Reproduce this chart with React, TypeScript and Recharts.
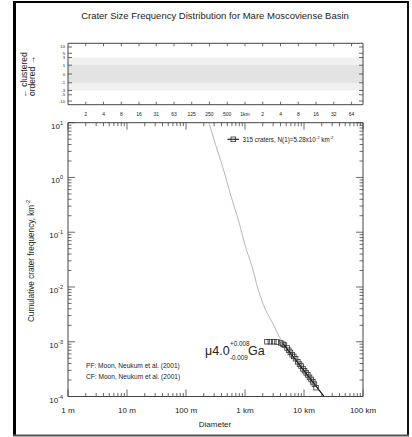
import React from 'react';
import { ComposedChart, Line, Scatter, XAxis, YAxis, ReferenceArea } from 'recharts';

const FONT = '"Liberation Sans", Arial, Helvetica, sans-serif';
const TXT = '#222';
const AX = '#444';

// ---------- data (diameter in km, cumulative frequency in km^-2) ----------
const isochronD = [0.245, 0.32, 0.418, 0.58, 0.8, 1.0, 1.3, 1.66, 2.2, 2.95, 4.09, 6.0, 9.29, 14.0, 21.9, 26];
const isochronN = [10, 3.87, 1.57, 0.453, 0.146, 0.058, 0.0247, 0.0092, 0.00396, 0.00217, 0.00108, 0.000607, 0.000331, 0.00019, 0.0001, 0.000081];

const fitD = [4.37, 21.9];
const fitN = [0.000935, 0.0001];

const craterD = [2.36, 2.69, 3.07, 3.49, 4.04, 4.4, 4.65, 5.16, 5.5, 5.88, 6.3, 6.71, 7.2, 7.85, 8.4, 8.93, 9.6, 10.2, 10.9, 11.6, 12.4, 13.2, 14.1, 15.0, 16.0];
const craterN = [0.001, 0.001, 0.001, 0.00099, 0.00095, 0.0009, 0.00087, 0.00077, 0.0007, 0.00064, 0.00058, 0.00054, 0.00049, 0.00043, 0.00039, 0.00036, 0.00032, 0.000295, 0.00027, 0.000248, 0.000224, 0.000205, 0.000185, 0.000168, 0.000145];

// ---------- ticks ----------
const xDecades = [0.001, 0.01, 0.1, 1, 10, 100];
const xDecadeLabels = ['1 m', '10 m', '100 m', '1 km', '10 km', '100 km'];
const yDecades = [0.0001, 0.001, 0.01, 0.1, 1, 10];
const yExponents = ['-4', '-3', '-2', '-1', '0', '1'];
const minorMult = [2, 3, 4, 5, 6, 7, 8, 9];

const panelXTicks = [0.002, 0.004, 0.008, 0.016, 0.03125, 0.0625, 0.125, 0.25, 0.5, 1, 2, 4, 8, 16, 32, 64];
const panelXLabels = ['2', '4', '8', '16', '31', '63', '125', '250', '500', '1km', '2', '4', '8', '16', '32', '64'];
const panelYValues = [-10, -5, -3, -1, 0, 1, 3, 5, 10];
const panelYLabels = ['-10', '-5', '-3', '-1', '0', '1', '3', '5', '10'];
const outerBand = [-3, 3];
const innerBand = [-1, 1];

// symmetric-log position used for the R-plot axis
const panelPos = (v: number) => Math.sign(v) * Math.log1p(Math.abs(v) / 0.7);

const withMinors = (decades: number[]) => {
  const out: number[] = [];
  decades.forEach((d, i) => {
    out.push(d);
    if (i < decades.length - 1) minorMult.forEach((m) => out.push(+(d * m).toPrecision(6)));
  });
  return out;
};
const xTicks = withMinors(xDecades);
const yTicks = withMinors(yDecades);

const isochron = isochronD.map((d, i) => ({ d, n: isochronN[i] }));
const fit = fitD.map((d, i) => ({ d, n: fitN[i] }));
const craters = craterD.map((d, i) => ({ d, n: craterN[i] }));

const majorIndex = (arr: number[], v: number) => arr.findIndex((a) => Math.abs(a - v) / a < 1e-6);

// ---------- custom ticks ----------
const BottomTick = (p: any) => {
  const { x, y, payload } = p;
  const idx = majorIndex(xDecades, payload.value);
  const len = idx >= 0 ? 7 : 3.5;
  return (
    <g>
      <line x1={x} x2={x} y1={y} y2={y - len} stroke={AX} strokeWidth={0.8} />
      {idx >= 0 && (
        <text x={x} y={y + 16.5} textAnchor="middle" fontSize={8} fontFamily={FONT} fill={TXT}>
          {xDecadeLabels[idx]}
        </text>
      )}
    </g>
  );
};
const TopTick = (p: any) => {
  const { x, y, payload } = p;
  const idx = majorIndex(xDecades, payload.value);
  const len = idx >= 0 ? 7 : 3.5;
  return <line x1={x} x2={x} y1={y} y2={y + len} stroke={AX} strokeWidth={0.8} />;
};
const LeftTick = (p: any) => {
  const { x, y, payload } = p;
  const idx = majorIndex(yDecades, payload.value);
  const len = idx >= 0 ? 7 : 3.5;
  return (
    <g>
      <line x1={x} x2={x + len} y1={y} y2={y} stroke={AX} strokeWidth={0.8} />
      {idx >= 0 && (
        <text x={x - 5} y={y + 6} textAnchor="end" fontSize={8} fontFamily={FONT} fill={TXT}>
          10
          <tspan dy={-4} fontSize={5.5}>{yExponents[idx]}</tspan>
        </text>
      )}
    </g>
  );
};
const RightTick = (p: any) => {
  const { x, y, payload } = p;
  const idx = majorIndex(yDecades, payload.value);
  const len = idx >= 0 ? 7 : 3.5;
  return <line x1={x} x2={x - len} y1={y} y2={y} stroke={AX} strokeWidth={0.8} />;
};

const PanelBottomTick = (p: any) => {
  const { x, y, index } = p;
  return (
    <g>
      <line x1={x} x2={x} y1={y} y2={y - 3} stroke={AX} strokeWidth={0.8} />
      <text x={x} y={y + 11} textAnchor="middle" fontSize={5} fontFamily={FONT} fill={TXT}>
        {panelXLabels[index]}
      </text>
    </g>
  );
};
const PanelTopTick = (p: any) => {
  const { x, y } = p;
  return <line x1={x} x2={x} y1={y} y2={y + 3} stroke={AX} strokeWidth={0.8} />;
};
const PanelLeftTick = (p: any) => {
  const { x, y, index } = p;
  return (
    <g>
      <line x1={x} x2={x + 4} y1={y} y2={y} stroke={AX} strokeWidth={0.8} />
      <text x={x - 3} y={y + 1.5} textAnchor="end" fontSize={4.2} fontFamily={FONT} fill={TXT}>
        {panelYLabels[index]}
      </text>
    </g>
  );
};
const PanelRightTick = (p: any) => {
  const { x, y } = p;
  return <line x1={x} x2={x - 4} y1={y} y2={y} stroke={AX} strokeWidth={0.8} />;
};

const Square = (p: any) => {
  const { cx, cy } = p;
  if (cx == null || cy == null) return null;
  return <rect x={cx - 2.3} y={cy - 2.3} width={4.6} height={4.6} fill="none" stroke="#333" strokeWidth={0.8} />;
};

const axisLine = { stroke: AX, strokeWidth: 1 };

export default function App() {
  const panelTicksY = panelYValues.map(panelPos);
  const yMax = 3.1;
  return (
    <div style={{ position: 'absolute', left: 0, top: 0, width: 412, height: 437, background: '#fff', overflow: 'hidden' }}>
      {/* R-plot panel */}
      <div style={{ position: 'absolute', left: 0, top: 0 }}>
        <ComposedChart width={412} height={125} margin={{ top: 42.3, right: 48, bottom: 19.3, left: 67 }}>
          <XAxis xAxisId="b" type="number" dataKey="d" scale="log" domain={[0.001, 100]} allowDataOverflow
            ticks={panelXTicks} interval={0} height={1} tickSize={0} tickMargin={0} tickLine={false}
            axisLine={axisLine} tick={(p: any) => <PanelBottomTick {...p} />} />
          <XAxis xAxisId="t" orientation="top" type="number" dataKey="d" scale="log" domain={[0.001, 100]} allowDataOverflow
            ticks={panelXTicks} interval={0} height={1} tickSize={0} tickMargin={0} tickLine={false}
            axisLine={axisLine} tick={(p: any) => <PanelTopTick {...p} />} />
          <YAxis yAxisId="l" type="number" domain={[-yMax, yMax]} allowDataOverflow ticks={panelTicksY} interval={0}
            width={1} tickSize={0} tickMargin={0} tickLine={false} axisLine={axisLine}
            tick={(p: any) => <PanelLeftTick {...p} />} />
          <YAxis yAxisId="r" orientation="right" type="number" domain={[-yMax, yMax]} allowDataOverflow ticks={panelTicksY} interval={0}
            width={1} tickSize={0} tickMargin={0} tickLine={false} axisLine={axisLine}
            tick={(p: any) => <PanelRightTick {...p} />} />
          <ReferenceArea xAxisId="b" yAxisId="l" x1={0.001} x2={100} y1={panelPos(outerBand[0])} y2={panelPos(outerBand[1])}
            fill="#f0f0f0" fillOpacity={1} stroke="none" />
          <ReferenceArea xAxisId="b" yAxisId="l" x1={0.001} x2={100} y1={panelPos(innerBand[0])} y2={panelPos(innerBand[1])}
            fill="#e3e3e3" fillOpacity={1} stroke="none" />
        </ComposedChart>
      </div>

      {/* main CSFD plot */}
      <div style={{ position: 'absolute', left: 0, top: 0 }}>
        <ComposedChart width={412} height={437} margin={{ top: 121.7, right: 48, bottom: 39.5, left: 67 }}>
          <XAxis xAxisId="b" type="number" dataKey="d" scale="log" domain={[0.001, 100]} allowDataOverflow
            ticks={xTicks} interval={0} height={1} tickSize={0} tickMargin={0} tickLine={false}
            axisLine={axisLine} tick={(p: any) => <BottomTick {...p} />} />
          <XAxis xAxisId="t" orientation="top" type="number" dataKey="d" scale="log" domain={[0.001, 100]} allowDataOverflow
            ticks={xTicks} interval={0} height={1} tickSize={0} tickMargin={0} tickLine={false}
            axisLine={axisLine} tick={(p: any) => <TopTick {...p} />} />
          <YAxis yAxisId="l" type="number" scale="log" domain={[0.0001, 10]} allowDataOverflow ticks={yTicks} interval={0}
            width={1} tickSize={0} tickMargin={0} tickLine={false} axisLine={axisLine}
            tick={(p: any) => <LeftTick {...p} />} />
          <YAxis yAxisId="r" orientation="right" type="number" scale="log" domain={[0.0001, 10]} allowDataOverflow ticks={yTicks} interval={0}
            width={1} tickSize={0} tickMargin={0} tickLine={false} axisLine={axisLine}
            tick={(p: any) => <RightTick {...p} />} />
          <Line xAxisId="b" yAxisId="l" data={isochron} dataKey="n" type="monotone" stroke="#b5b5b5" strokeWidth={1}
            dot={false} isAnimationActive={false} />
          <Scatter xAxisId="b" yAxisId="l" data={craters} dataKey="n" shape={(p: any) => <Square {...p} />} isAnimationActive={false} />
          <Line xAxisId="b" yAxisId="l" data={fit} dataKey="n" type="linear" stroke="#000" strokeWidth={1.2}
            dot={false} isAnimationActive={false} />
        </ComposedChart>
      </div>

      {/* texts and frame */}
      <svg width={412} height={437} style={{ position: 'absolute', left: 0, top: 0, pointerEvents: 'none' }}>
        <line x1={14.5} y1={1} x2={14.5} y2={436} stroke="#000" strokeWidth={3} />
        <line x1={13} y1={2} x2={409} y2={2} stroke="#000" strokeWidth={2} />
        <line x1={408} y1={1} x2={408} y2={436} stroke="#111" strokeWidth={2} />
        <line x1={13} y1={435.5} x2={409} y2={435.5} stroke="#555" strokeWidth={2} />

        <text x={215} y={18.5} textAnchor="middle" fontSize={9.5} fontFamily={FONT} fill={TXT}>
          Crater Size Frequency Distribution for Mare Moscoviense Basin
        </text>

        <text transform="translate(27,75) rotate(-90)" textAnchor="middle" fontSize={8.5} fontFamily={FONT} fill={TXT}>
          ← clustered
        </text>
        <text transform="translate(35,76) rotate(-90)" textAnchor="middle" fontSize={8.5} fontFamily={FONT} fill={TXT}>
          ordered →
        </text>

        <text transform="translate(33.5,261) rotate(-90)" textAnchor="middle" fontSize={8.2} fontFamily={FONT} fill={TXT}>
          Cumulative crater frequency, km<tspan dy={-3.5} fontSize={5.5}>-2</tspan>
        </text>

        <text x={215} y={427} textAnchor="middle" fontSize={8} fontFamily={FONT} fill={TXT}>Diameter</text>

        {/* legend */}
        <line x1={227.5} x2={239} y1={139.3} y2={139.3} stroke="#222" strokeWidth={1.2} />
        <rect x={231} y={137} width={4.6} height={4.6} fill="none" stroke="#333" strokeWidth={0.8} />
        <text x={242.5} y={141.5} fontSize={6.3} fontFamily={FONT} fill={TXT}>
          315 craters, N(1)=5.28x10<tspan dy={-2.5} fontSize={4.2}>-2</tspan>
          <tspan dy={2.5}> km</tspan>
          <tspan dy={-2.5} fontSize={4.2}>-2</tspan>
        </text>

        {/* model age */}
        <text x={205} y={355} fontSize={12.5} fontFamily={FONT} fill={TXT}>μ4.0</text>
        <text x={230} y={345.5} fontSize={6.3} fontFamily={FONT} fill={TXT}>+0.008</text>
        <text x={230} y={359.5} fontSize={6.3} fontFamily={FONT} fill={TXT}>-0.009</text>
        <text x={248} y={355} fontSize={12.5} fontFamily={FONT} fill={TXT}>Ga</text>

        <text x={86} y={367.5} fontSize={6.6} fontFamily={FONT} fill={TXT}>PF: Moon, Neukum et al. (2001)</text>
        <text x={86} y={379} fontSize={6.6} fontFamily={FONT} fill={TXT}>CF: Moon, Neukum et al. (2001)</text>
      </svg>
    </div>
  );
}
